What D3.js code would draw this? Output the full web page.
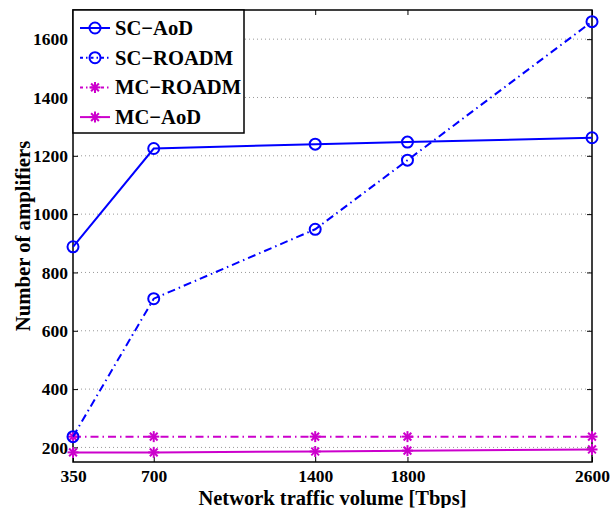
<!DOCTYPE html>
<html><head><meta charset="utf-8">
<script src="https://cdn.jsdelivr.net/npm/d3@7"></script>
<style>body{margin:0;background:#fff}svg{display:block}text{font-family:"Liberation Serif","Times New Roman",serif;font-weight:bold}</style>
</head><body>
<script>
const traffic = [350, 700, 1400, 1800, 2600];
const xTicks = [350, 700, 1400, 1800, 2600];
const yTicks = [200, 400, 600, 800, 1000, 1200, 1400, 1600];
const scAoD = [888, 1225, 1240, 1247, 1262];
const scROADM = [237, 710, 948, 1185, 1660];
const mcROADM = [237, 237, 237, 237, 237];
const mcAoD = [183, 183, 186, 189, 193];
const seriesNames = ["SC\u2212AoD", "SC\u2212ROADM", "MC\u2212ROADM", "MC\u2212AoD"];
const seriesColors = ["#0000ff", "#0000ff", "#cc00cc", "#cc00cc"];
const seriesDash = [null, "8,4,1.5,4", "8,4,1.5,4", null];
const seriesMarker = ["circle", "circle", "star", "star"];
const seriesData = [scAoD, scROADM, mcROADM, mcAoD];

const W = 613, H = 508;
const m = {l: 73, r: 21, t: 10, b: 46};
const svg = d3.select("body").append("svg").attr("width", W).attr("height", H);
const x = d3.scaleLinear().domain([350, 2600]).range([m.l, W - m.r]);
const y = d3.scaleLinear().domain([150, 1700]).range([H - m.b, m.t]);

// grid
svg.append("g").selectAll("line").data(yTicks).join("line")
  .attr("x1", m.l).attr("x2", W - m.r)
  .attr("y1", d => y(d)).attr("y2", d => y(d))
  .attr("stroke", "#999").attr("stroke-width", 1).attr("stroke-dasharray", "1,3");

// frame
svg.append("rect").attr("x", m.l).attr("y", m.t).attr("width", W - m.r - m.l).attr("height", H - m.b - m.t)
  .attr("fill", "none").attr("stroke", "#000").attr("stroke-width", 1.5);

const xAxis = svg.append("g").attr("transform", `translate(0,${H - m.b})`)
  .call(d3.axisBottom(x).tickValues(xTicks).tickSize(-5).tickPadding(8).tickFormat(d3.format("d")));
const xAxisTop = svg.append("g").attr("transform", `translate(0,${m.t})`)
  .call(d3.axisTop(x).tickValues(xTicks).tickSize(-5).tickFormat(""));
const yAxis = svg.append("g").attr("transform", `translate(${m.l},0)`)
  .call(d3.axisLeft(y).tickValues(yTicks).tickSize(-5).tickPadding(5).tickFormat(d3.format("d")));
const yAxisR = svg.append("g").attr("transform", `translate(${W - m.r},0)`)
  .call(d3.axisRight(y).tickValues(yTicks).tickSize(-5).tickFormat(""));
[xAxis, xAxisTop, yAxis, yAxisR].forEach(g => {
  g.select(".domain").remove();
  g.selectAll("line").attr("stroke", "#000");
  g.selectAll("text").attr("fill", "#000").style("font-size", "17.5px").style("font-family", "Liberation Serif").style("font-weight", "bold");
});

svg.append("text").attr("x", (m.l + W - m.r) / 2).attr("y", H - 3).attr("text-anchor", "middle")
  .style("font-size", "20.5px").text("Network traffic volume [Tbps]");
svg.append("text").attr("transform", `translate(30,${(m.t + H - m.b) / 2}) rotate(-90)`).attr("text-anchor", "middle")
  .style("font-size", "20.7px").text("Number of amplifiers");

const line = d3.line().x((d, i) => x(traffic[i])).y(d => y(d));
function marker(g, type, cx, cy, color) {
  if (type === "circle") {
    g.append("circle").attr("cx", cx).attr("cy", cy).attr("r", 5.5).attr("fill", "none").attr("stroke", color).attr("stroke-width", 2);
  } else {
    const r = 5.5;
    [0, 45, 90, 135].forEach(a => {
      const rad = a * Math.PI / 180;
      g.append("line").attr("x1", cx - r * Math.cos(rad)).attr("y1", cy - r * Math.sin(rad))
        .attr("x2", cx + r * Math.cos(rad)).attr("y2", cy + r * Math.sin(rad))
        .attr("stroke", color).attr("stroke-width", 2);
    });
  }
}
const plot = svg.append("g");
[3, 2, 1, 0].forEach(k => {
  const g = plot.append("g");
  g.append("path").datum(seriesData[k]).attr("d", line).attr("fill", "none")
    .attr("stroke", seriesColors[k]).attr("stroke-width", 2)
    .attr("stroke-dasharray", seriesDash[k]);
  seriesData[k].forEach((v, i) => marker(g, seriesMarker[k], x(traffic[i]), y(v), seriesColors[k]));
});

// legend
const lg = svg.append("g");
lg.append("rect").attr("x", m.l).attr("y", m.t).attr("width", 171).attr("height", 123)
  .attr("fill", "#fff").attr("stroke", "#000").attr("stroke-width", 1.5);
seriesNames.forEach((n, k) => {
  const yy = m.t + 18 + k * 29.7;
  lg.append("line").attr("x1", m.l + 7).attr("x2", m.l + 37).attr("y1", yy).attr("y2", yy)
    .attr("stroke", seriesColors[k]).attr("stroke-width", 2).attr("stroke-dasharray", seriesDash[k] ? "3,3,1.5,3" : null);
  marker(lg, seriesMarker[k], m.l + 22, yy, seriesColors[k]);
  lg.append("text").attr("x", m.l + 42).attr("y", yy + 7).style("font-size", "20.6px").attr("fill", "#000").text(n);
});
</script>
</body></html>
